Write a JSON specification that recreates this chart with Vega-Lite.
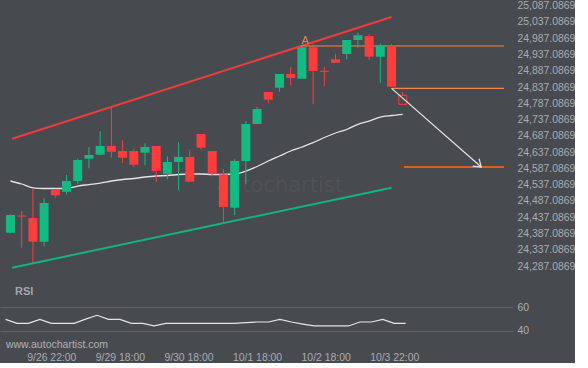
{
  "$schema": "https://vega.github.io/schema/vega-lite/v6.json",
  "background": "#474a4f",
  "padding": 0,
  "spacing": 0,
  "config": {
    "view": {"stroke": null},
    "font": "Liberation Sans",
    "axis": {"domain": false, "ticks": false, "labelFont": "Liberation Sans", "labelFontSize": 10.4, "labelColor": "#aaadb2", "title": null, "labelFlush": false, "labelOverlap": false}
  },
  "resolve": {"scale": {"x": "independent", "y": "independent"}},
  "datasets": {
    "candles": [
      {"i":0,"o":24389.7,"h":24446.0,"l":24388.0,"c":24444.0},
      {"i":1,"o":24442.5,"h":24456.3,"l":24343.6,"c":24439.4},
      {"i":2,"o":24434.8,"h":24526.1,"l":24297.5,"c":24362.0},
      {"i":3,"o":24362.0,"h":24495.4,"l":24347.9,"c":24480.9},
      {"i":4,"o":24521.8,"h":24521.8,"l":24497.2,"c":24504.6},
      {"i":5,"o":24515.6,"h":24566.9,"l":24507.6,"c":24548.5},
      {"i":6,"o":24548.5,"h":24618.2,"l":24538.4,"c":24613.0},
      {"i":7,"o":24617.0,"h":24653.0,"l":24587.5,"c":24628.4},
      {"i":8,"o":24629.3,"h":24702.1,"l":24627.5,"c":24656.0},
      {"i":9,"o":24656.0,"h":24773.7,"l":24620.1,"c":24638.5},
      {"i":10,"o":24640.7,"h":24673.5,"l":24603.8,"c":24620.1},
      {"i":11,"o":24640.7,"h":24649.0,"l":24592.4,"c":24598.6},
      {"i":12,"o":24635.4,"h":24664.3,"l":24596.7,"c":24653.0},
      {"i":13,"o":24656.0,"h":24656.0,"l":24545.4,"c":24579.2},
      {"i":14,"o":24570.9,"h":24624.4,"l":24553.7,"c":24606.9},
      {"i":15,"o":24606.9,"h":24668.3,"l":24519.9,"c":24622.2},
      {"i":16,"o":24622.2,"h":24645.9,"l":24546.4,"c":24546.4},
      {"i":17,"o":24692.9,"h":24692.9,"l":24644.7,"c":24650.8},
      {"i":18,"o":24640.7,"h":24640.7,"l":24562.9,"c":24573.1},
      {"i":19,"o":24569.1,"h":24584.4,"l":24423.5,"c":24468.6},
      {"i":20,"o":24466.5,"h":24615.2,"l":24444.0,"c":24609.9},
      {"i":21,"o":24609.9,"h":24732.8,"l":24538.4,"c":24723.6},
      {"i":22,"o":24723.6,"h":24775.8,"l":24723.6,"c":24769.7},
      {"i":23,"o":24821.9,"h":24821.9,"l":24788.1,"c":24798.3},
      {"i":24,"o":24835.1,"h":24877.2,"l":24822.9,"c":24877.2},
      {"i":25,"o":24877.2,"h":24898.7,"l":24842.5,"c":24864.9},
      {"i":26,"o":24862.8,"h":24963.3,"l":24861.9,"c":24959.3},
      {"i":27,"o":24959.3,"h":24968.5,"l":24784.1,"c":24886.4},
      {"i":28,"o":24887.1,"h":24898.7,"l":24840.4,"c":24884.0},
      {"i":29,"o":24922.4,"h":24939.6,"l":24911.9,"c":24911.9},
      {"i":30,"o":24938.7,"h":24981.7,"l":24922.4,"c":24981.7},
      {"i":31,"o":24981.7,"h":25004.1,"l":24958.0,"c":24996.1},
      {"i":32,"o":24994.0,"h":25000.1,"l":24920.2,"c":24930.4},
      {"i":33,"o":24930.4,"h":24970.3,"l":24850.5,"c":24965.4},
      {"i":34,"o":24966.3,"h":24970.3,"l":24838.2,"c":24838.2}
    ],
    "current": [{"i":35,"o":24811.8,"h":24822.8,"l":24784.1,"c":24784.1}],
    "ma": [
      {"i":0,"v":24548.5},{"i":1,"v":24539.3},{"i":2,"v":24527.7},{"i":3,"v":24525.5},{"i":4,"v":24525.5},{"i":5,"v":24525.5},
      {"i":6,"v":24533.1},{"i":7,"v":24537.7},{"i":8,"v":24542.3},{"i":9,"v":24548.5},{"i":10,"v":24553.1},{"i":11,"v":24556.2},
      {"i":12,"v":24560.8},{"i":13,"v":24563.9},{"i":14,"v":24565.4},{"i":15,"v":24568.5},{"i":16,"v":24570.0},{"i":17,"v":24570.0},
      {"i":18,"v":24568.5},{"i":19,"v":24568.5},{"i":20,"v":24570.0},{"i":21,"v":24579.2},{"i":22,"v":24593.0},{"i":23,"v":24609.9},
      {"i":24,"v":24625.3},{"i":25,"v":24640.7},{"i":26,"v":24653.0},{"i":27,"v":24666.2},{"i":28,"v":24682.1},{"i":29,"v":24696.0},
      {"i":30,"v":24706.7},{"i":31,"v":24722.7},{"i":32,"v":24732.8},{"i":33,"v":24745.1},{"i":34,"v":24749.7},{"i":35,"v":24753.4}
    ],
    "channel": [
      {"i":0.15,"p":24678.5,"line":"upper"},{"i":34,"p":25052.3,"line":"upper"},
      {"i":0.15,"p":24282.1,"line":"lower"},{"i":34,"p":24527.9,"line":"lower"}
    ],
    "levels": [
      {"i1":25.9,"i2":44.04,"p":24963.3,"kind":"resistance"},
      {"i1":34,"i2":44.04,"p":24833.2,"kind":"support"},
      {"i1":35.1,"i2":44.04,"p":24591.5,"kind":"target"}
    ],
    "arrow": [{"i":34,"p":24833.2},{"i":42,"p":24591.5}],
    "arrowhead": [{"i":42,"p":24591.5}],
    "notes": [{"i":26.3,"p":24978.6,"label":"A"}],
    "watermark": [{"i":24.0,"p":24533,"label":"autochartist"}],
    "rsi": [
      {"i":0,"v":49.7},{"i":1,"v":46.4},{"i":2,"v":46.4},{"i":3,"v":49.7},{"i":4,"v":46.4},{"i":5,"v":46.4},
      {"i":6,"v":46.4},{"i":7,"v":49.9},{"i":8,"v":53.1},{"i":9,"v":49.7},{"i":10,"v":49.7},{"i":11,"v":46.4},
      {"i":12,"v":46.4},{"i":13,"v":44.2},{"i":14,"v":46.4},{"i":15,"v":46.4},{"i":16,"v":46.4},{"i":17,"v":46.4},
      {"i":18,"v":46.4},{"i":19,"v":46.4},{"i":20,"v":46.4},{"i":21,"v":47.0},{"i":22,"v":47.5},{"i":23,"v":47.5},
      {"i":24,"v":49.7},{"i":25,"v":47.5},{"i":26,"v":45.8},{"i":27,"v":44.2},{"i":28,"v":44.2},{"i":29,"v":44.2},
      {"i":30,"v":44.2},{"i":31,"v":47.5},{"i":32,"v":47.5},{"i":33,"v":49.7},{"i":34,"v":46.4},{"i":35,"v":46.4}
    ],
    "rsiNotes": [
      {"i":0.82,"v":72.5,"label":"RSI","kind":"title"},
      {"i":0.03,"v":28.3,"label":"www.autochartist.com","kind":"url"}
    ]
  },
  "vconcat": [
    {
      "width": 513,
      "height": 280,
      "layer": [
        {
          "data": {"name": "watermark"},
          "mark": {"type": "text", "font": "DejaVu Sans", "fontSize": 21, "color": "#4f5256", "baseline": "middle", "align": "center"},
          "encoding": {
            "x": {"field": "i", "type": "quantitative", "scale": {"domain": [-0.49, 44.39], "nice": false, "zero": false}, "axis": null},
            "y": {"field": "p", "type": "quantitative", "scale": {"domain": [24241.3, 25101.5], "nice": false, "zero": false},
                  "axis": {"orient": "right", "labelPadding": 4, "format": ",.4f", "grid": false, "labelOverlap": false, "tickCount": 40,
                           "values": [24287.0869,24337.0869,24387.0869,24437.0869,24487.0869,24537.0869,24587.0869,24637.0869,24687.0869,24737.0869,24787.0869,24837.0869,24887.0869,24937.0869,24987.0869,25037.0869,25087.0869]}},
            "text": {"field": "label"}
          }
        },
        {
          "data": {"name": "channel"},
          "transform": [{"filter": "datum.line == 'upper'"}],
          "mark": {"type": "line", "color": "#f03c3c", "strokeWidth": 2},
          "encoding": {"x": {"field": "i", "type": "quantitative"}, "y": {"field": "p", "type": "quantitative"}}
        },
        {
          "data": {"name": "channel"},
          "transform": [{"filter": "datum.line == 'lower'"}],
          "mark": {"type": "line", "color": "#15b37e", "strokeWidth": 2},
          "encoding": {"x": {"field": "i", "type": "quantitative"}, "y": {"field": "p", "type": "quantitative"}}
        },
        {
          "data": {"name": "ma"},
          "mark": {"type": "line", "color": "#e4e4e4", "strokeWidth": 1.3, "interpolate": "monotone"},
          "encoding": {"x": {"field": "i", "type": "quantitative"}, "y": {"field": "v", "type": "quantitative"}}
        },
        {
          "data": {"name": "levels"},
          "transform": [{"filter": "datum.kind != 'target'"}],
          "mark": {"type": "rule", "color": "#e98a58", "strokeWidth": 1.2},
          "encoding": {"x": {"field": "i1", "type": "quantitative"}, "x2": {"field": "i2"}, "y": {"field": "p", "type": "quantitative"}}
        },
        {
          "data": {"name": "levels"},
          "transform": [{"filter": "datum.kind == 'target'"}],
          "mark": {"type": "rule", "color": "#ff6a22", "strokeWidth": 1.3},
          "encoding": {"x": {"field": "i1", "type": "quantitative"}, "x2": {"field": "i2"}, "y": {"field": "p", "type": "quantitative"}}
        },
        {
          "mark": {"type": "rule", "color": "#c4c4c4", "strokeDash": [3, 2], "strokeWidth": 1},
          "encoding": {"x": {"datum": 34, "type": "quantitative"}}
        },
        {
          "data": {"name": "candles"},
          "mark": {"type": "rule", "strokeWidth": 1},
          "encoding": {
            "x": {"field": "i", "type": "quantitative"},
            "y": {"field": "l", "type": "quantitative"},
            "y2": {"field": "h"},
            "color": {"condition": {"test": "datum.c >= datum.o", "value": "#13bb83"}, "value": "#fd3c3c"}
          }
        },
        {
          "data": {"name": "candles"},
          "mark": {"type": "bar", "size": 9},
          "encoding": {
            "x": {"field": "i", "type": "quantitative"},
            "y": {"field": "o", "type": "quantitative"},
            "y2": {"field": "c"},
            "color": {"condition": {"test": "datum.c >= datum.o", "value": "#13bb83"}, "value": "#fd3c3c"}
          }
        },
        {
          "data": {"name": "current"},
          "mark": {"type": "rule", "color": "#fd3c3c", "strokeWidth": 1},
          "encoding": {"x": {"field": "i", "type": "quantitative"}, "y": {"field": "o", "type": "quantitative"}, "y2": {"field": "h"}}
        },
        {
          "data": {"name": "current"},
          "mark": {"type": "bar", "size": 8, "fill": "#474a4f", "fillOpacity": 0, "stroke": "#fd3c3c", "strokeWidth": 1},
          "encoding": {"x": {"field": "i", "type": "quantitative"}, "y": {"field": "o", "type": "quantitative"}, "y2": {"field": "c"}}
        },
        {
          "data": {"name": "arrow"},
          "mark": {"type": "line", "color": "#e6e6e6", "strokeWidth": 1.2},
          "encoding": {"x": {"field": "i", "type": "quantitative"}, "y": {"field": "p", "type": "quantitative"}}
        },
        {
          "data": {"name": "arrowhead"},
          "mark": {"type": "point", "shape": "M-1,-0.7L0,0L-1,0.7", "filled": false, "stroke": "#e6e6e6", "strokeWidth": 1.2, "size": 196, "angle": 40.7, "opacity": 1},
          "encoding": {"x": {"field": "i", "type": "quantitative"}, "y": {"field": "p", "type": "quantitative"}}
        },
        {
          "data": {"name": "notes"},
          "mark": {"type": "text", "color": "#e38650", "fontSize": 11, "baseline": "middle", "align": "center"},
          "encoding": {"x": {"field": "i", "type": "quantitative"}, "y": {"field": "p", "type": "quantitative"}, "text": {"field": "label"}}
        }
      ]
    },
    {
      "width": 513,
      "height": 70,
      "layer": [
        {
          "data": {"name": "rsi"},
          "mark": {"type": "line", "color": "#e4e4e4", "strokeWidth": 1.2},
          "encoding": {
            "x": {"field": "i", "type": "quantitative", "scale": {"domain": [-0.49, 44.39], "nice": false, "zero": false},
                  "axis": {"orient": "bottom", "grid": false, "labelPadding": 1, "values": [4, 10, 16, 22, 28, 34], "tickCount": 20,
                           "labelExpr": "datum.value == 4 ? '9/26 22:00' : datum.value == 10 ? '9/29 18:00' : datum.value == 16 ? '9/30 18:00' : datum.value == 22 ? '10/1 18:00' : datum.value == 28 ? '10/2 18:00' : '10/3 22:00'"}},
            "y": {"field": "v", "type": "quantitative", "scale": {"domain": [23.33, 81.67], "nice": false, "zero": false},
                  "axis": {"orient": "right", "labelPadding": 4, "values": [40, 60], "tickCount": 5, "grid": true, "gridColor": "#5f6267", "gridWidth": 1}}
          }
        },
        {
          "mark": {"type": "rule", "color": "#c4c4c4", "strokeDash": [3, 2], "strokeWidth": 1},
          "encoding": {"x": {"datum": 34, "type": "quantitative"}}
        },
        {
          "data": {"name": "rsiNotes"},
          "transform": [{"filter": "datum.kind == 'title'"}],
          "mark": {"type": "text", "color": "#a3a6ae", "fontSize": 11, "fontWeight": "bold", "align": "left", "baseline": "middle"},
          "encoding": {"x": {"field": "i", "type": "quantitative"}, "y": {"field": "v", "type": "quantitative"}, "text": {"field": "label"}}
        },
        {
          "data": {"name": "rsiNotes"},
          "transform": [{"filter": "datum.kind == 'url'"}],
          "mark": {"type": "text", "color": "#b0b3b8", "fontSize": 10.5, "align": "left", "baseline": "middle"},
          "encoding": {"x": {"field": "i", "type": "quantitative"}, "y": {"field": "v", "type": "quantitative"}, "text": {"field": "label"}}
        }
      ]
    }
  ]
}
